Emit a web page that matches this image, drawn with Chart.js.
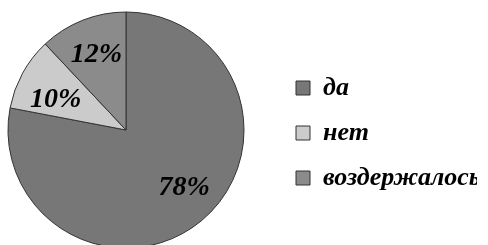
<!DOCTYPE html>
<html>
<head>
<meta charset="utf-8">
<script src="https://cdn.jsdelivr.net/npm/chart.js@4/dist/chart.umd.min.js"></script>
<style>
  html, body { margin: 0; padding: 0; background: #fff; overflow: hidden; }
  #wrap { width: 513px; height: 245px; position: relative; margin-left: -25px; }
</style>
</head>
<body>
<div id="wrap"><canvas id="pieChart"></canvas></div>
<script>
// data
const categories = ['да', 'нет', 'воздержалось'];
const shares = [78, 10, 12];
const sliceColors = ['#777777', '#cbcbcb', '#8b8b8b'];

// small nudges so the labels sit where the original put them
const labelNudge = [[7, -4], [0, 8], [0, -1]];

// percent labels inside the slices
const percentLabels = {
    id: 'percentLabels',
    afterDatasetsDraw(chart) {
        const ctx = chart.ctx;
        const meta = chart.getDatasetMeta(0);
        ctx.save();
        ctx.font = 'italic bold 28px "Liberation Serif"';
        ctx.fillStyle = '#000';
        ctx.textAlign = 'center';
        ctx.textBaseline = 'middle';
        meta.data.forEach((arc, i) => {
            const p = arc.getProps(['x', 'y', 'startAngle', 'endAngle', 'outerRadius'], true);
            const mid = (p.startAngle + p.endAngle) / 2;
            const r = p.outerRadius * 0.68;
            ctx.fillText(shares[i] + '%',
                p.x + Math.cos(mid) * r + labelNudge[i][0],
                p.y + Math.sin(mid) * r + labelNudge[i][1]);
        });
        ctx.restore();
    }
};

const ctx = document.getElementById('pieChart').getContext('2d');
new Chart(ctx, {
    type: 'pie',
    data: {
        labels: categories,
        datasets: [{
            data: shares,
            backgroundColor: sliceColors,
            borderColor: '#333333',
            borderWidth: 1,
            clip: false
        }]
    },
    options: {
        responsive: true,
        maintainAspectRatio: false,
        animation: false,
        radius: 118,
        layout: {
            padding: { left: 0, right: 11, top: 15, bottom: 0 }
        },
        plugins: {
            tooltip: { enabled: false },
            legend: {
                position: 'right',
                maxWidth: 200,
                // empty title only nudges the list down a little
                title: { display: true, text: '', padding: { top: 3, bottom: 2 }, font: { size: 1, lineHeight: 1 } },
                labels: {
                    boxWidth: 14,
                    boxHeight: 14,
                    padding: 19,
                    color: '#000',
                    font: { family: 'Liberation Serif', size: 26, weight: 'bold', style: 'italic' }
                }
            }
        }
    },
    plugins: [percentLabels]
});
</script>
</body>
</html>
